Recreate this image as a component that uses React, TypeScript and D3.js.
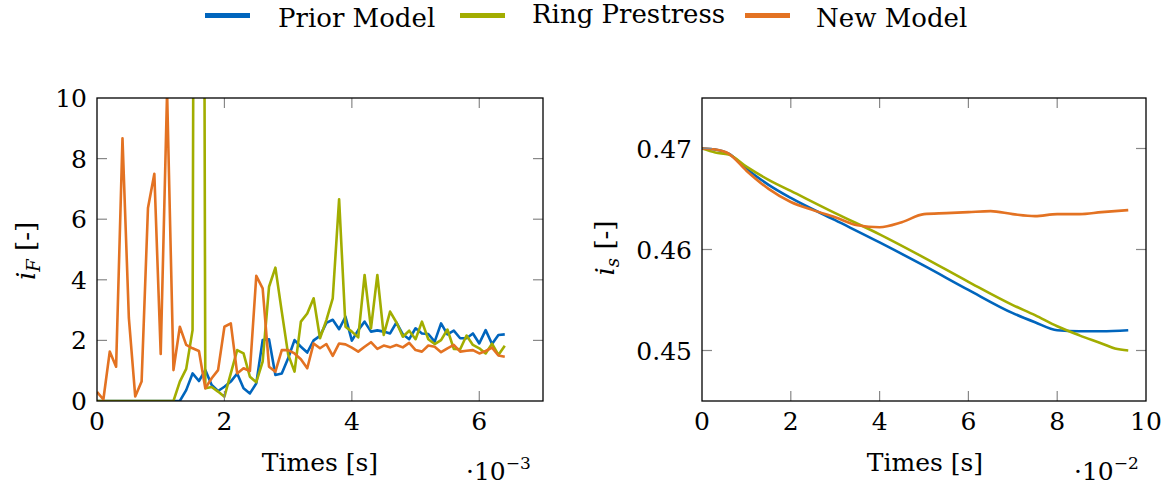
import React from "react";
import * as d3 from "d3";

// ---------- Left plot data (time in 1e-3 s) ----------
const leftTimes = [
  0, 0.1, 0.2, 0.3, 0.4, 0.5, 0.6, 0.7, 0.8, 0.9, 1.0, 1.1, 1.2, 1.3, 1.4, 1.5, 1.6, 1.7, 1.8, 1.9,
  2.0, 2.1, 2.2, 2.3, 2.4, 2.5, 2.6, 2.7, 2.8, 2.9, 3.0, 3.1, 3.2, 3.3, 3.4, 3.5, 3.6, 3.7, 3.8, 3.9,
  4.0, 4.1, 4.2, 4.3, 4.4, 4.5, 4.6, 4.7, 4.8, 4.9, 5.0, 5.1, 5.2, 5.3, 5.4, 5.5, 5.6, 5.7, 5.8, 5.9,
  6.0, 6.1, 6.2, 6.3, 6.4,
];
const leftPrior = [
  0, 0, 0, 0, 0, 0, 0, 0, 0, 0, 0, 0, 0, 0, 0.36, 0.91, 0.66, 1.02, 0.53, 0.33,
  0.47, 0.64, 0.91, 0.42, 0.25, 0.58, 2.01, 2.04, 0.86, 0.91, 1.41, 2.01, 1.79, 1.6, 2.0, 2.15, 2.58, 2.68, 2.37, 2.78,
  1.99, 2.34, 2.62, 2.29, 2.33, 2.29, 2.23, 2.59, 2.2, 2.04, 2.4, 2.23, 2.21, 1.96, 2.56, 2.2, 2.32, 2.07, 2.07, 2.23,
  1.9, 2.34, 1.88, 2.18, 2.2,
];
const leftRing = [
  0, 0, 0, 0, 0, 0, 0, 0, 0, 0, 0, 0, 0, 0.64, 1.06, 2.34, 80, 0.42, 0.46, 0.31,
  0.14, 0.91, 1.68, 1.57, 0.8, 0.62, 1.3, 3.77, 4.4, 2.95, 1.54, 0.97, 2.62, 2.89, 3.39, 2.07, 2.67, 3.39, 6.66, 2.45,
  2.29, 2.1, 4.16, 2.4, 4.16, 2.18, 2.95, 2.59, 2.12, 2.32, 2.04, 2.62, 2.04, 1.88, 2.01, 2.36, 1.72, 1.71, 2.16, 1.85,
  1.74, 1.57, 1.89, 1.52, 1.82,
];
const leftNew = [
  0.3, 0.05, 1.63, 1.13, 8.67, 2.74, 0.15, 0.64, 6.37, 7.5, 1.55, 10.2, 1.02, 2.45, 1.85, 1.74, 1.65, 0.42, 0.75, 1.02,
  2.45, 2.56, 0.91, 1.08, 0.99, 4.13, 3.72, 1.13, 0.97, 1.68, 1.68, 1.57, 1.38, 1.08, 1.9, 1.74, 1.88, 1.49, 1.9, 1.87,
  1.76, 1.63, 1.79, 1.94, 1.72, 1.83, 1.77, 1.85, 1.77, 1.92, 1.68, 1.63, 1.83, 1.79, 1.61, 1.74, 1.85, 1.63, 1.66, 1.68,
  1.57, 1.65, 1.76, 1.5, 1.46,
];
const leftXTicks = [0, 2, 4, 6];
const leftYTicks = [0, 2, 4, 6, 8, 10];

// ---------- Right plot data (time in 1e-2 s) ----------
const priorTimes = [0, 0.3, 0.6, 1, 1.5, 2, 3, 4, 5, 6, 7, 7.5, 8, 8.5, 9, 9.6];
const priorVals = [0.47, 0.4699, 0.4695, 0.468, 0.4664, 0.4651, 0.4629, 0.4607, 0.4584, 0.456, 0.4537, 0.4528, 0.452, 0.4519, 0.4519, 0.452];
const ringTimes = [0, 0.3, 0.6, 1, 1.5, 2, 3, 4, 5, 6, 7, 7.5, 8, 8.5, 9, 9.3, 9.6];
const ringVals = [0.47, 0.4696, 0.4694, 0.4682, 0.4669, 0.4658, 0.4636, 0.4615, 0.4592, 0.4568, 0.4545, 0.4535, 0.4524, 0.4515, 0.4507, 0.4502, 0.45];
const newTimes = [0, 0.3, 0.6, 1, 1.5, 2, 2.5, 3, 3.5, 4, 4.5, 5, 5.5, 6, 6.5, 7, 7.5, 8, 8.5, 9, 9.6];
const newVals = [0.47, 0.4699, 0.4695, 0.4678, 0.466, 0.4647, 0.4639, 0.4632, 0.4624, 0.4622, 0.4627, 0.4635, 0.4636, 0.4637, 0.4638, 0.4635, 0.4633, 0.4635, 0.4635, 0.4637, 0.4639];
const rightXTicks = [0, 2, 4, 6, 8, 10];
const rightYTicks = [0.45, 0.46, 0.47];

const seriesNames = ["Prior Model", "Ring Prestress", "New Model"];
const colors = ["#0065BD", "#A2AD00", "#E37222"];

const FONT = "'DejaVu Serif', serif";
const FS = 25;

type Pt = [number, number];

function Axes({
  x, y, xTicks, yTicks, yFmt, id,
}: {
  x: d3.ScaleLinear<number, number>;
  y: d3.ScaleLinear<number, number>;
  xTicks: number[];
  yTicks: number[];
  yFmt: (v: number) => string;
  id: string;
}) {
  const [x0, x1] = x.range();
  const [y0, y1] = y.range(); // y0 bottom, y1 top
  const tl = 10;
  return (
    <g>
      {xTicks.map((t) => (
        <g key={"xt" + id + t}>
          {t > x.domain()[0] && t < x.domain()[1] && (
            <>
              <line x1={x(t)} x2={x(t)} y1={y0} y2={y0 - tl} stroke="#888" strokeWidth={1.2} />
              <line x1={x(t)} x2={x(t)} y1={y1} y2={y1 + tl} stroke="#888" strokeWidth={1.2} />
            </>
          )}
          <text x={x(t)} y={y0 + 29} textAnchor="middle" fontFamily={FONT} fontSize={FS}>
            {t}
          </text>
        </g>
      ))}
      {yTicks.map((t) => (
        <g key={"yt" + id + t}>
          {y(t) < y0 - 0.5 && y(t) > y1 + 0.5 && (
            <>
              <line x1={x0} x2={x0 + tl} y1={y(t)} y2={y(t)} stroke="#888" strokeWidth={1.2} />
              <line x1={x1} x2={x1 - tl} y1={y(t)} y2={y(t)} stroke="#888" strokeWidth={1.2} />
            </>
          )}
          <text x={x0 - 10} y={y(t)} dy="0.36em" textAnchor="end" fontFamily={FONT} fontSize={FS}>
            {yFmt(t)}
          </text>
        </g>
      ))}
      <rect x={x0} y={y1} width={x1 - x0} height={y0 - y1} fill="none" stroke="#000" strokeWidth={1.3} />
    </g>
  );
}

export default function App() {
  const W = 1170;
  const H = 485;

  // left plot scales
  const lx = d3.scaleLinear().domain([0, 7]).range([97, 543]);
  const ly = d3.scaleLinear().domain([0, 10]).range([401, 98]);
  // right plot scales
  const rx = d3.scaleLinear().domain([0, 10]).range([702, 1146]);
  const ry = d3.scaleLinear().domain([0.445, 0.475]).range([401, 98]);

  const leftLine = d3.line<Pt>().x((d) => lx(d[0])).y((d) => ly(d[1]));
  const rightLine = d3.line<Pt>().x((d) => rx(d[0])).y((d) => ry(d[1])).curve(d3.curveMonotoneX);

  const leftSeries = [leftPrior, leftRing, leftNew].map((vals) =>
    vals.map((v, i) => [leftTimes[i], v] as Pt)
  );
  const rightSeries = [
    priorTimes.map((t, i) => [t, priorVals[i]] as Pt),
    ringTimes.map((t, i) => [t, ringVals[i]] as Pt),
    newTimes.map((t, i) => [t, newVals[i]] as Pt),
  ];

  const legendItems = [
    { lx: 205, tx: 278, ty: 27 },
    { lx: 460, tx: 532, ty: 23 },
    { lx: 745, tx: 816, ty: 27 },
  ];

  return (
    <svg width={W} height={H} style={{ position: "absolute", left: 0, top: 0, background: "#fff" }}>
      <defs>
        <clipPath id="clipL">
          <rect x={97} y={98} width={446} height={303} />
        </clipPath>
        <clipPath id="clipR">
          <rect x={702} y={98} width={444} height={303} />
        </clipPath>
      </defs>

      {/* Legend */}
      {seriesNames.map((name, i) => (
        <g key={name}>
          <line x1={legendItems[i].lx} x2={legendItems[i].lx + 45} y1={15.5} y2={15.5} stroke={colors[i]} strokeWidth={5} />
          <text x={legendItems[i].tx} y={legendItems[i].ty} fontFamily={FONT} fontSize={26}>
            {name}
          </text>
        </g>
      ))}

      {/* Left plot */}
      <g clipPath="url(#clipL)">
        {leftSeries.map((s, i) => (
          <path key={"l" + i} d={leftLine(s) || ""} fill="none" stroke={colors[i]} strokeWidth={2.6} strokeLinejoin="round" />
        ))}
      </g>
      <Axes x={lx} y={ly} xTicks={leftXTicks} yTicks={leftYTicks} yFmt={(v) => String(v)} id="L" />
      <text x={320} y={471} textAnchor="middle" fontFamily={FONT} fontSize={FS}>
        Times [s]
      </text>
      <text x={466} y={480} fontFamily={FONT} fontSize={FS}>
        ·10<tspan dy={-11} fontSize={17}>−3</tspan>
      </text>
      <text
        transform="translate(35,251) rotate(-90)"
        textAnchor="middle"
        fontFamily={FONT}
        fontSize={26}
      >
        <tspan fontStyle="italic">i</tspan>
        <tspan fontStyle="italic" fontSize={18} dy={5}>F</tspan>
        <tspan dy={-5}> [-]</tspan>
      </text>

      {/* Right plot */}
      <g clipPath="url(#clipR)">
        {rightSeries.map((s, i) => (
          <path key={"r" + i} d={rightLine(s) || ""} fill="none" stroke={colors[i]} strokeWidth={2.6} />
        ))}
      </g>
      <Axes x={rx} y={ry} xTicks={rightXTicks} yTicks={rightYTicks} yFmt={(v) => d3.format(".2f")(v)} id="R" />
      <text x={925} y={471} textAnchor="middle" fontFamily={FONT} fontSize={FS}>
        Times [s]
      </text>
      <text x={1074} y={480} fontFamily={FONT} fontSize={FS}>
        ·10<tspan dy={-11} fontSize={17}>−2</tspan>
      </text>
      <text
        transform="translate(614,248) rotate(-90)"
        textAnchor="middle"
        fontFamily={FONT}
        fontSize={26}
      >
        <tspan fontStyle="italic">i</tspan>
        <tspan fontStyle="italic" fontSize={18} dy={5}>s</tspan>
        <tspan dy={-5}> [-]</tspan>
      </text>
    </svg>
  );
}
